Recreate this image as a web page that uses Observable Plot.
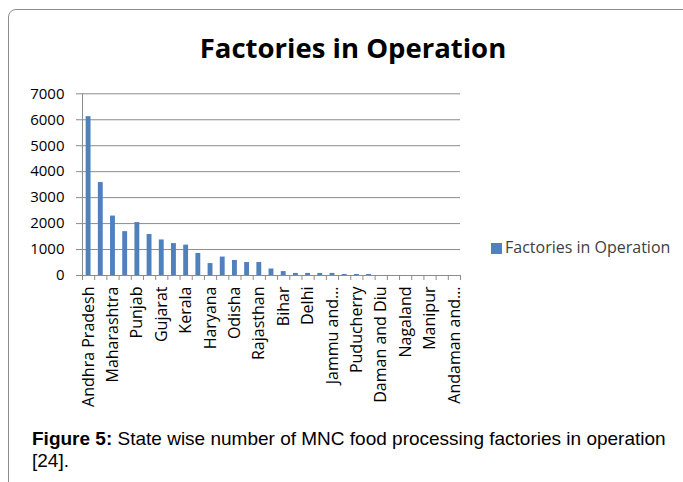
<!DOCTYPE html>
<html>
<head>
<meta charset="utf-8">
<script src="https://cdn.jsdelivr.net/npm/d3@7"></script>
<script src="https://cdn.jsdelivr.net/npm/@observablehq/plot@0.6"></script>
<style>
  html, body { margin: 0; padding: 0; background: #fff; }
  #page { position: relative; width: 683px; height: 482px; overflow: hidden; }
  #frame {
    position: absolute; left: 8px; top: 9px; width: 720px; height: 520px;
    border: 1px solid #8c8c8c; border-radius: 8px; box-sizing: border-box;
  }
  #title {
    position: absolute; left: 8px; width: 690px; top: 34px;
    text-align: center; font-family: "Open Sans", sans-serif; font-weight: bold;
    font-size: 27.5px; line-height: 27.5px; color: #000;
  }
  #chart { position: absolute; left: 0; top: 80px; }
  #legend {
    position: absolute; left: 491px; top: 239px; height: 16px;
    font-family: "Open Sans", sans-serif; font-size: 16px; line-height: 16px; color: #404040;
    white-space: nowrap;
  }
  #legend .swatch {
    position: absolute; left: 0; top: 3.5px; width: 11px; height: 11px; background: #4f81bd;
  }
  #legend .label { position: absolute; left: 14px; top: 0; }
  .caption-line {
    position: absolute; left: 32px; white-space: nowrap;
    font-family: "Liberation Sans", Arial, sans-serif; font-size: 19px; line-height: 22px; color: #000;
  }
  #cap1 { top: 428px; }
  #cap2 { top: 450px; }
</style>
</head>
<body>
<div id="page">
  <div id="frame"></div>
  <div id="title"></div>
  <div id="chart"></div>
  <div id="legend"><span class="swatch"></span><span class="label"></span></div>
  <div id="cap1" class="caption-line"><b>Figure 5:</b><span> State wise number of MNC food processing factories in operation</span></div>
  <div id="cap2" class="caption-line"><span>[24].</span></div>
</div>
<script>
// State-wise count of multinational food processing factories in operation
const chartTitle = "Factories in Operation";
const seriesName = "Factories in Operation";

const states = [
  "Andhra Pradesh", "Tamil Nadu", "Maharashtra", "Karnataka", "Punjab",
  "Uttar Pradesh", "Gujarat", "West Bengal", "Kerala", "Madhya Pradesh",
  "Haryana", "Assam", "Odisha", "Uttarakhand", "Rajasthan",
  "Himachal Pradesh", "Bihar", "Chhattisgarh", "Delhi", "Jharkhand",
  "Jammu and Kashmir", "Goa", "Puducherry", "Tripura", "Daman and Diu",
  "Meghalaya", "Nagaland", "Sikkim", "Manipur", "Mizoram",
  "Andaman and Nicobar Islands"
];

const factories = [
  6120, 3580, 2290, 1690, 2040,
  1580, 1370, 1230, 1170, 850,
  460, 710, 580, 500, 500,
  250, 150, 80, 80, 80,
  80, 40, 40, 40, 0,
  0, 0, 0, 0, 0,
  0
];

const yTicks = [0, 1000, 2000, 3000, 4000, 5000, 6000, 7000];

// Long names are clipped after the second word, as in the category axis
const shortName = (s) => s.length > 16 ? s.split(" ").slice(0, 2).join(" ") + "…" : s;

const n = states.length;
const idx = d3.range(n);
const boundaries = d3.range(n + 1);
const labelled = idx.filter((i) => i % 2 === 0).map((i) => i + 0.5);

const grid = "#8c8c8c";

const chart = Plot.plot({
  width: 480,
  height: 340,
  marginLeft: 82,
  marginRight: 20,
  marginTop: 13.3,
  marginBottom: 145,
  style: { fontFamily: "'Open Sans', sans-serif", fontSize: "15px", color: "#000", background: "transparent" },
  x: { domain: [0, n], axis: null },
  y: { domain: [0, 7000], axis: null },
  marks: [
    Plot.ruleY(yTicks, { stroke: grid, strokeWidth: 1 }),
    Plot.ruleX([0], { y1: 0, y2: 7000, stroke: grid }),
    Plot.axisY({ ticks: yTicks, tickSize: 6, tickPadding: 12, stroke: grid, tickFormat: (d) => String(d), fill: "#000" }),
    Plot.axisX({ ticks: boundaries, tickSize: 5, tickFormat: () => "", stroke: grid }),
    Plot.axisX({
      ticks: labelled, tickSize: 0, tickPadding: 11, tickRotate: -90, fontSize: 16,
      tickFormat: (v) => shortName(states[Math.floor(v)]), fill: "#000"
    }),
    Plot.rectY(idx, {
      x1: (i) => i + 0.3,
      x2: (i) => i + 0.7,
      y1: 0,
      y2: (i) => factories[i],
      fill: "#4f81bd"
    })
  ]
});

document.getElementById("chart").appendChild(chart);
document.getElementById("title").textContent = chartTitle;
document.querySelector("#legend .label").textContent = seriesName;
</script>
</body>
</html>
